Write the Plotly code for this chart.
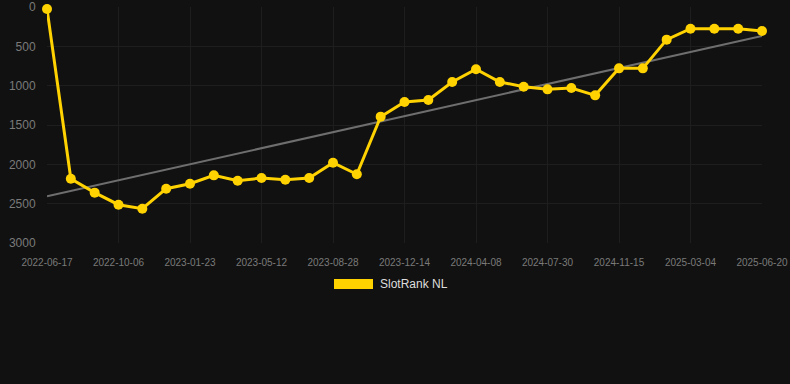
import numpy as np
import plotly.graph_objects as go

dates = ["2022-06-17", "2022-07-24", "2022-08-30", "2022-10-06", "2022-11-12",
         "2022-12-18", "2023-01-23", "2023-02-28", "2023-04-05", "2023-05-12",
         "2023-06-17", "2023-07-23", "2023-08-28", "2023-10-03", "2023-11-08",
         "2023-12-14", "2024-01-21", "2024-02-29", "2024-04-08", "2024-05-15",
         "2024-06-22", "2024-07-30", "2024-09-04", "2024-10-10", "2024-11-15",
         "2024-12-21", "2025-01-27", "2025-03-04", "2025-04-09", "2025-05-15",
         "2025-06-20"]
ranks = [25, 2183, 2360, 2513, 2564, 2310, 2246, 2140, 2208, 2174,
         2195, 2174, 1979, 2127, 1394, 1208, 1182, 953, 792, 953,
         1013, 1047, 1030, 1123, 780, 780, 415, 276, 276, 276, 305]
series_name = "SlotRank NL"

idx = np.arange(len(dates))
slope, intercept = np.polyfit(idx, ranks, 1)
trend = slope * idx + intercept
tick_idx = list(range(0, len(dates), 3))
tick_text = [dates[i] for i in tick_idx]

fig = go.Figure()
fig.add_trace(go.Scatter(
    x=[idx[0], idx[-1]], y=[trend[0], trend[-1]], mode="lines",
    line=dict(color="rgb(110,110,110)", width=2), showlegend=False,
    hoverinfo="skip", cliponaxis=False))
fig.add_trace(go.Scatter(
    x=idx, y=ranks, mode="lines+markers", name=series_name,
    line=dict(color="#FFD200", width=3),
    marker=dict(color="#FFD200", size=10),
    showlegend=False, cliponaxis=False,
    customdata=dates, hovertemplate="%{customdata}: %{y}<extra></extra>"))

fig.add_shape(type="rect", xref="paper", yref="paper",
              x0=(334 - 47) / 715, x1=(373 - 47) / 715,
              y0=(243 - 289) / 236, y1=(243 - 279) / 236,
              fillcolor="#FFD200", line=dict(width=0))
fig.add_annotation(text=series_name, xref="paper", yref="paper",
                   x=(378 - 47) / 715, y=(243 - 284) / 236,
                   xanchor="left", yanchor="middle", showarrow=False,
                   font=dict(size=12, color="#dddddd",
                             family="Liberation Sans, Arial, sans-serif"))

fig.update_layout(
    width=790, height=384,
    margin=dict(l=47, r=28, t=7, b=141),
    paper_bgcolor="#111111", plot_bgcolor="#111111",
    font=dict(family="Liberation Sans, Arial, sans-serif", color="#7a7a7a"),
    showlegend=False,
    xaxis=dict(range=[0, len(dates) - 1], tickvals=tick_idx, ticktext=tick_text,
               tickfont=dict(size=10, color="#7a7a7a"), automargin=False,
               showgrid=True, gridcolor="#1e1e1e", gridwidth=1,
               zeroline=False, showline=False,
               ticks="outside", ticklen=10, tickcolor="rgba(0,0,0,0)"),
    yaxis=dict(range=[3000, 0], tickvals=[0, 500, 1000, 1500, 2000, 2500, 3000],
               tickfont=dict(size=12, color="#7a7a7a"), automargin=False,
               showgrid=True, gridcolor="#1e1e1e", gridwidth=1,
               zeroline=False, showline=False,
               ticks="outside", ticklen=8, tickcolor="rgba(0,0,0,0)"),
)
fig.write_html("out.html")
